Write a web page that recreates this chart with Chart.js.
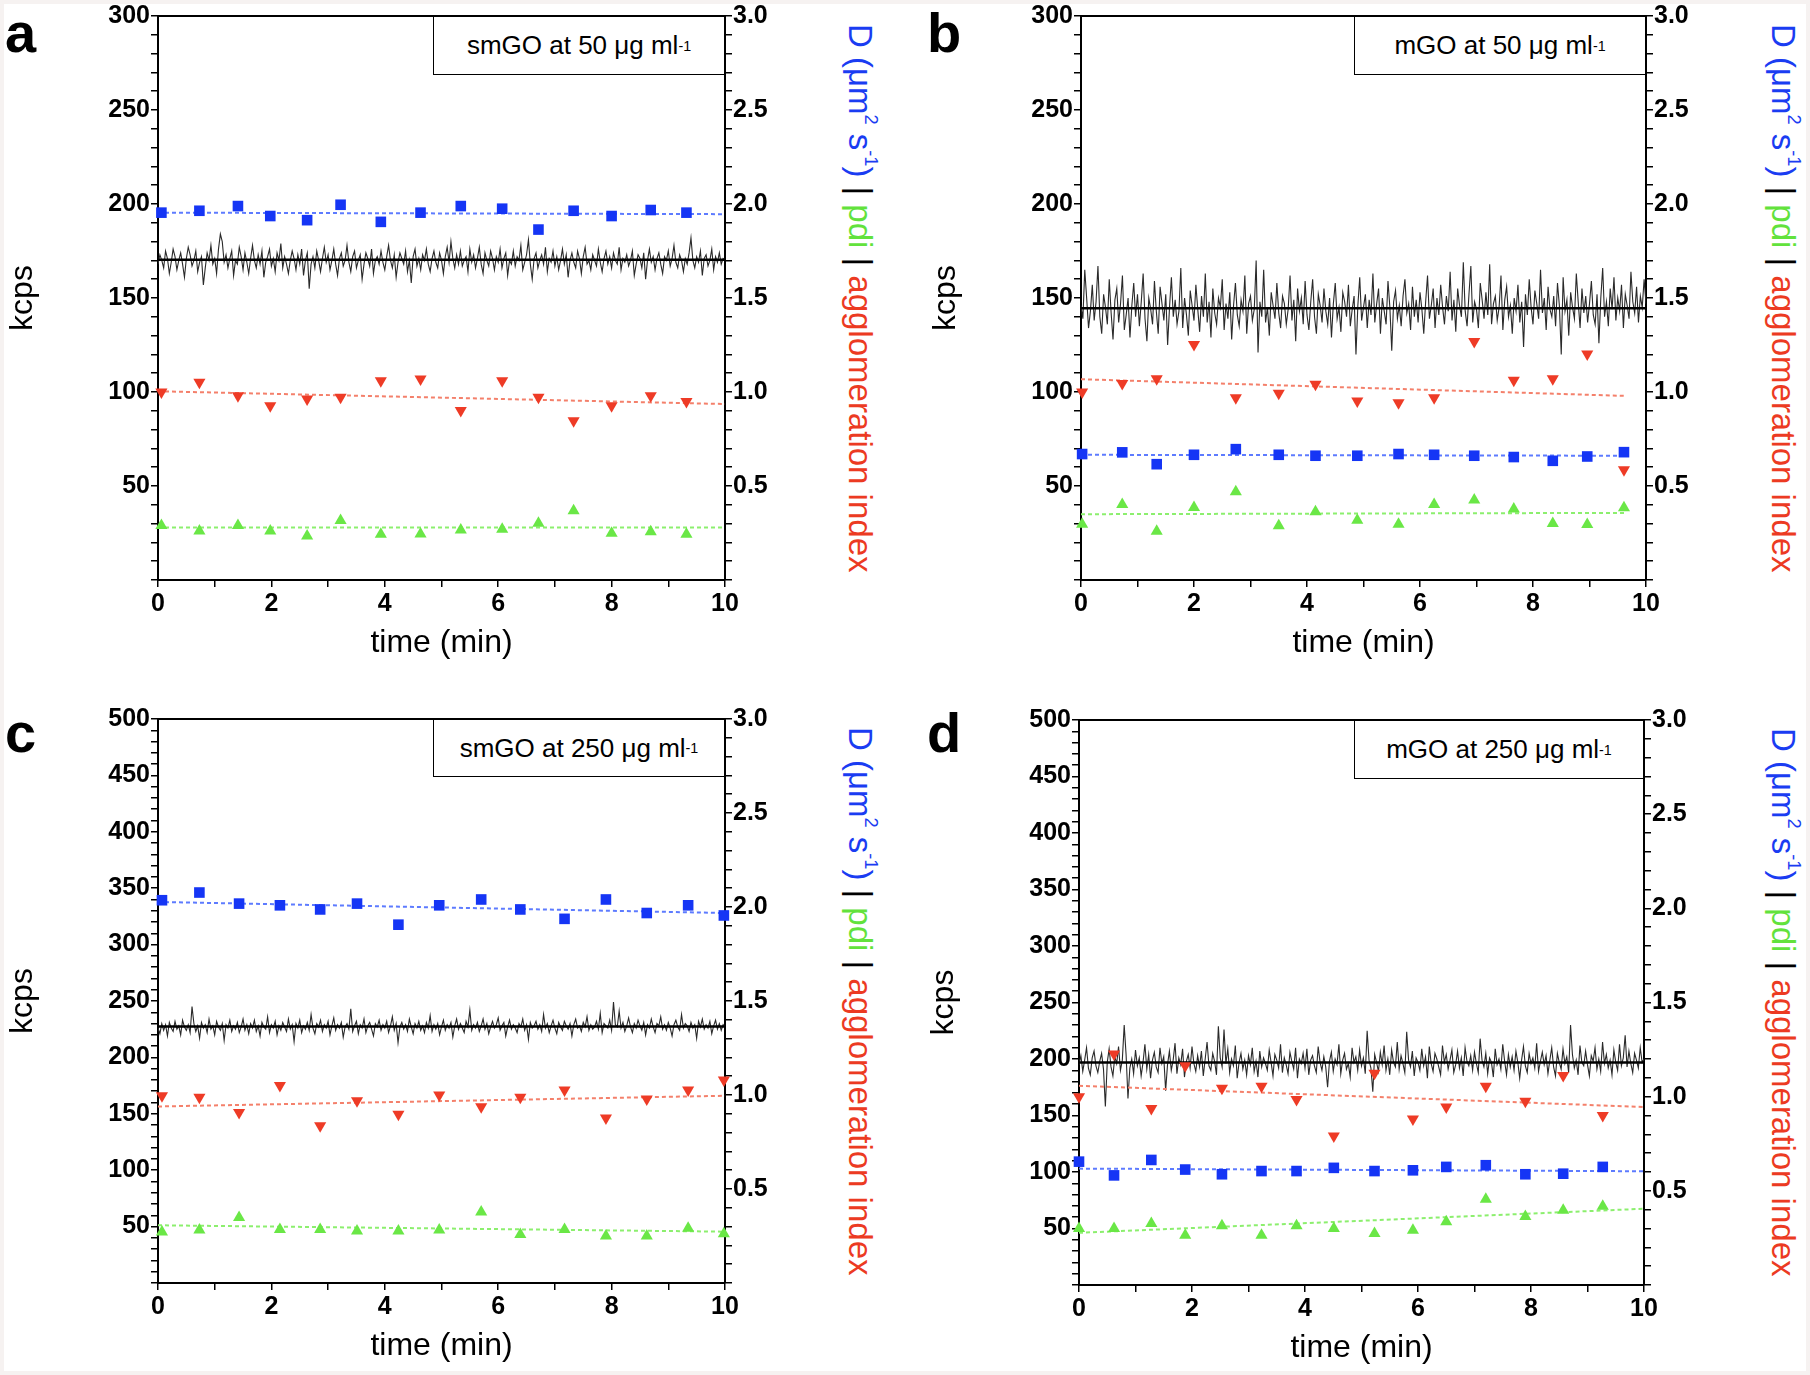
<!DOCTYPE html>
<html>
<head>
<meta charset="utf-8">
<script src="https://cdn.jsdelivr.net/npm/chart.js@4.4.1/dist/chart.umd.min.js"></script>
<style>
  body { margin: 0; width: 1810px; height: 1375px; background: #f6f2f1; position: relative; overflow: hidden;
         font-family: "Liberation Sans", Arial, sans-serif; color: #000; }
  #sheet { position: absolute; left: 4px; top: 4px; right: 4px; bottom: 4px; background: #fff; }
  canvas { position: absolute; }
  .letter { position: absolute; font-weight: bold; font-size: 56px; line-height: 56px; }
  .key { position: absolute; box-sizing: border-box; border: 1.5px solid #000; background: #fff;
         display: flex; align-items: center; justify-content: center; font-size: 26px; }
  .key sup, .rtitle sup { font-size: 0.55em; line-height: 0; vertical-align: 0.6em; }
  .rtitle { position: absolute; writing-mode: vertical-rl; text-align: center; font-size: 33px;
            width: 38px; line-height: 38px; white-space: nowrap; }
  .blue { color: #1a3cf2; } .green { color: #62e23c; } .red { color: #ec3a22; }
</style>
</head>
<body>
<div id="sheet"></div>
<canvas id="pa"></canvas>
<canvas id="pb"></canvas>
<canvas id="pc"></canvas>
<canvas id="pd"></canvas>

<div class="letter" style="left:5px;top:5px">a</div>
<div class="letter" style="left:927px;top:5px">b</div>
<div class="letter" style="left:5px;top:705px">c</div>
<div class="letter" style="left:927px;top:705px">d</div>

<div class="key" style="left:433px;top:16px;width:292px;height:59px">smGO at 50 μg ml<sup>-1</sup></div>
<div class="key" style="left:1354px;top:16px;width:292px;height:59px">mGO at 50 μg ml<sup>-1</sup></div>
<div class="key" style="left:433px;top:719px;width:292px;height:58px">smGO at 250 μg ml<sup>-1</sup></div>
<div class="key" style="left:1354px;top:720px;width:290px;height:59px">mGO at 250 μg ml<sup>-1</sup></div>

<div class="rtitle" style="left:841px;top:16px;height:564px"><span class="blue">D (μm<sup>2</sup> s<sup>-1</sup>)</span> | <span class="green">pdi</span> | <span class="red">agglomeration index</span></div>
<div class="rtitle" style="left:1764px;top:16px;height:564px"><span class="blue">D (μm<sup>2</sup> s<sup>-1</sup>)</span> | <span class="green">pdi</span> | <span class="red">agglomeration index</span></div>
<div class="rtitle" style="left:841px;top:719px;height:564px"><span class="blue">D (μm<sup>2</sup> s<sup>-1</sup>)</span> | <span class="green">pdi</span> | <span class="red">agglomeration index</span></div>
<div class="rtitle" style="left:1764px;top:720px;height:565px"><span class="blue">D (μm<sup>2</sup> s<sup>-1</sup>)</span> | <span class="green">pdi</span> | <span class="red">agglomeration index</span></div>

<script>
// ---- panel a : smGO 50 ----
const timeA = [0.06, 0.73, 1.41, 1.98, 2.63, 3.22, 3.93, 4.63, 5.34, 6.07, 6.71, 7.33, 8.00, 8.69, 9.32];
const diffA = [1.954, 1.964, 1.989, 1.936, 1.914, 1.996, 1.905, 1.954, 1.989, 1.975, 1.864, 1.964, 1.936, 1.968, 1.954];
const aggA = [1.000, 1.052, 0.980, 0.927, 0.963, 0.972, 1.060, 1.069, 0.901, 1.060, 0.972, 0.847, 0.927, 0.980, 0.950];
const pdiA = [0.290, 0.261, 0.290, 0.261, 0.234, 0.316, 0.243, 0.245, 0.266, 0.270, 0.302, 0.368, 0.249, 0.256, 0.243];
const fitTimeA = [0, 10];
const fitDiffA = [1.954, 1.946];
const fitAggA = [1.004, 0.936];
const fitPdiA = [0.279, 0.279];
const meanKcpsA = 170.4;
const kcpsA = [
  168,173,170,166,175,171,163,169,176,172,
  165,170,174,168,161,171,177,173,167,170,
  175,164,169,172,157,166,174,170,178,168,
  171,163,176,184,180,169,173,166,171,175,
  162,170,168,177,172,165,174,169,163,171,
  178,170,166,173,168,175,161,169,172,176,
  167,171,164,174,170,179,166,172,168,163,
  170,175,171,165,173,168,176,162,170,174,
  155,168,172,166,175,170,164,171,177,169,
  173,165,170,176,168,162,171,174,167,170,
  178,169,164,172,175,166,170,173,160,168,
  174,171,167,176,163,170,172,168,175,169,
  165,172,178,170,166,173,161,169,174,171,
  168,175,164,170,158,172,176,167,171,165,
  173,170,176,168,164,171,175,169,166,174,
  170,163,172,177,169,180,171,166,173,168,
  175,167,170,172,164,176,169,173,166,171,
  177,168,163,174,170,167,175,171,165,172,
  169,176,166,171,174,162,170,168,175,167,
  172,170,178,165,169,173,181,168,160,171,
  174,166,170,173,168,177,164,171,169,175,
  167,172,165,170,176,168,173,161,170,174,
  169,166,175,171,163,172,177,168,170,165,
  173,170,167,176,169,164,171,175,168,172,
  166,174,170,168,177,165,171,169,173,167,
  170,175,162,168,173,171,166,174,160,170,
  176,169,172,165,171,174,168,163,172,170,
  175,167,171,178,169,166,173,170,164,171,
  168,174,182,170,166,172,169,175,162,171,
  173,167,170,176,165,172,169,174,168,171,170
];

// ---- panel b : mGO 50 ----
const timeB = [0.02, 0.73, 1.34, 2.00, 2.74, 3.50, 4.15, 4.89, 5.62, 6.25, 6.96, 7.66, 8.35, 8.96, 9.61];
const diffB = [0.670, 0.679, 0.616, 0.666, 0.696, 0.666, 0.661, 0.661, 0.670, 0.666, 0.661, 0.654, 0.634, 0.657, 0.680];
const aggB = [1.000, 1.045, 1.071, 1.252, 0.970, 0.993, 1.041, 0.952, 0.943, 0.970, 1.268, 1.063, 1.071, 1.202, 0.586];
const pdiB = [0.296, 0.402, 0.259, 0.386, 0.470, 0.288, 0.363, 0.318, 0.296, 0.402, 0.425, 0.377, 0.300, 0.295, 0.384];
const fitTimeB = [0, 9.65];
const fitDiffB = [0.666, 0.661];
const fitAggB = [1.068, 0.979];
const fitPdiB = [0.350, 0.357];
const meanKcpsB = 144.5;
const kcpsB = [
  146,139,165,150,134,143,157,138,148,167,
  140,131,152,145,136,160,142,128,149,155,
  137,147,162,133,141,150,129,146,158,140,
  152,135,148,163,139,127,150,144,136,159,
  143,131,156,147,138,152,125,145,161,140,
  149,136,143,166,134,150,141,130,154,146,
  138,157,144,132,151,140,163,137,148,129,
  155,142,136,150,145,160,133,147,139,153,
  128,146,158,141,135,149,143,162,131,147,
  151,138,144,170,121,148,140,165,137,145,
  130,153,146,139,158,142,134,151,147,136,
  144,162,138,149,127,155,143,150,136,159,
  141,133,148,160,140,131,152,146,137,155,
  143,136,150,129,147,158,139,145,132,153,
  148,140,157,135,144,151,120,146,161,138,
  145,152,134,149,141,163,137,147,155,131,
  150,143,136,159,145,122,148,154,139,146,
  135,151,160,142,147,133,156,140,149,137,
  153,144,131,148,162,139,146,155,134,150,
  141,157,145,136,151,143,164,138,149,132,
  155,146,140,169,143,135,152,167,137,148,
  144,134,158,149,139,153,141,168,136,147,
  151,138,145,162,133,149,156,140,146,131,
  150,143,157,137,148,124,152,141,160,145,
  136,154,147,139,165,142,150,133,156,144,
  140,151,135,158,146,120,161,143,149,130,
  153,145,139,163,148,134,155,142,151,137,
  147,159,141,136,152,126,150,166,140,148,
  135,155,144,161,138,150,143,157,134,152,
  146,139,164,148,142,156,137,151,145,160,147
];

// ---- panel c : smGO 250 ----
const timeC = [0.07, 0.73, 1.43, 2.15, 2.86, 3.51, 4.24, 4.96, 5.70, 6.39, 7.17, 7.90, 8.62, 9.35, 9.98];
const diffC = [2.036, 2.077, 2.018, 2.009, 1.987, 2.018, 1.906, 2.009, 2.040, 1.987, 1.937, 2.040, 1.968, 2.009, 1.955];
const aggC = [0.996, 0.988, 0.907, 1.050, 0.836, 0.970, 0.898, 1.000, 0.938, 0.988, 1.027, 0.877, 0.979, 1.027, 1.080];
const pdiC = [0.271, 0.282, 0.348, 0.285, 0.285, 0.276, 0.276, 0.282, 0.378, 0.258, 0.285, 0.250, 0.250, 0.291, 0.262];
const fitTimeC = [0, 10];
const fitDiffC = [2.027, 1.968];
const fitAggC = [0.939, 0.996];
const fitPdiC = [0.307, 0.273];
const meanKcpsC = 227.5;
const kcpsC = [
  226,221,230,224,229,219,231,226,223,232,
  225,228,220,233,227,224,229,222,245,230,
  223,228,217,231,226,229,222,234,225,228,
  220,232,227,224,230,215,229,226,233,223,
  228,225,231,222,227,234,224,229,221,230,
  226,233,223,228,219,231,227,225,236,222,
  229,226,232,220,228,224,231,227,223,234,
  225,229,214,230,226,233,222,228,225,231,
  224,238,226,221,230,227,233,223,229,226,
  232,220,228,235,224,229,226,231,218,227,
  230,225,243,223,228,232,221,229,226,234,
  222,228,231,225,219,230,227,233,224,229,
  226,232,222,228,236,224,230,213,227,231,
  225,229,223,234,227,221,230,226,232,224,
  228,222,231,226,237,223,229,225,230,220,
  227,233,224,229,226,231,218,228,234,225,
  230,226,222,232,227,242,224,229,226,231,
  223,228,234,225,230,221,227,232,226,229,
  235,224,228,231,219,227,233,225,229,226,
  222,230,227,234,224,229,216,231,226,228,
  232,225,229,223,238,226,230,222,228,233,
  226,221,231,227,224,232,228,225,230,219,
  229,234,226,228,223,231,227,236,224,229,
  225,227,232,225,239,222,230,228,226,233,
  224,249,229,227,241,226,231,223,228,235,
  227,222,230,226,233,228,224,231,220,229,
  226,234,227,222,230,228,236,225,229,224,
  231,226,219,229,233,227,224,238,226,230,
  228,223,231,226,229,217,232,227,234,225,
  229,226,232,221,228,233,225,230,224,229,227
];

// ---- panel d : mGO 250 ----
const timeD = [0, 0.62, 1.28, 1.88, 2.53, 3.23, 3.85, 4.51, 5.23, 5.91, 6.50, 7.20, 7.90, 8.57, 9.27];
const diffD = [0.655, 0.582, 0.664, 0.613, 0.588, 0.605, 0.605, 0.622, 0.605, 0.609, 0.627, 0.636, 0.588, 0.591, 0.627];
const aggD = [1.000, 1.227, 0.937, 1.164, 1.045, 1.055, 0.985, 0.791, 1.124, 0.882, 0.945, 1.055, 0.976, 1.113, 0.900];
const pdiD = [0.300, 0.300, 0.327, 0.264, 0.315, 0.264, 0.315, 0.300, 0.273, 0.291, 0.336, 0.455, 0.364, 0.397, 0.418];
const fitTimeD = [0, 10];
const fitDiffD = [0.618, 0.604];
const fitAggD = [1.058, 0.945];
const fitPdiD = [0.277, 0.405];
const meanKcpsD = 197;
const kcpsD = [
  195,203,189,199,210,192,186,201,207,194,
  188,198,205,191,158,197,209,193,185,202,
  196,211,190,199,230,204,165,192,200,187,
  208,194,201,185,197,213,191,204,183,199,
  206,193,188,210,196,202,172,195,207,190,
  199,214,187,201,195,209,184,198,204,192,
  211,196,189,203,193,207,185,200,215,194,
  190,205,198,186,229,201,193,226,196,209,
  188,200,194,212,183,197,205,191,199,186,
  203,195,210,189,198,184,207,193,201,196,
  190,208,197,185,204,199,192,213,188,201,
  195,187,206,198,191,210,183,200,196,205,
  192,209,186,199,203,194,188,211,197,190,
  202,193,175,198,206,189,200,195,213,187,
  199,205,191,196,184,210,197,202,190,208,
  194,201,187,225,199,192,171,204,197,189,
  206,195,212,190,200,186,208,197,193,215,
  191,203,196,188,224,199,193,207,185,201,
  197,190,209,194,202,183,211,196,189,205,
  200,193,186,212,197,204,191,199,208,188,
  195,207,192,201,185,210,198,194,203,190,
  206,196,188,218,199,193,205,187,201,197,
  184,209,195,200,191,213,198,186,204,193,
  202,190,207,197,183,199,211,194,188,205,
  196,201,192,214,189,198,206,195,203,187,
  199,210,193,185,205,197,191,209,196,202,
  188,230,204,192,199,186,212,197,194,207,
  195,185,203,198,210,191,200,189,215,196,
  204,192,199,186,208,197,190,213,194,201,
  221,193,207,196,188,205,199,192,210,197,200
];

const BLUE = "#1535f5", RED = "#ee3b26", GREEN = "#6ae746";
const BLUE_FIT = "#5d7bff", RED_FIT = "#f4806b", GREEN_FIT = "#8cef6e";

Chart.defaults.font.family = '"Liberation Sans", Arial, sans-serif';
Chart.defaults.color = "#000";

// top edge of the plot frame
const frameTop = {
    id: "frameTop",
    afterDraw(chart) {
        const { ctx, chartArea: a } = chart;
        ctx.save();
        ctx.strokeStyle = "#000";
        ctx.lineWidth = 2;
        ctx.beginPath();
        ctx.moveTo(a.left - 1, a.top);
        ctx.lineTo(a.right + 1, a.top);
        ctx.stroke();
        ctx.restore();
    }
};

function pts(xs, ys) {
    return ys.map((y, i) => ({ x: xs[i], y: y }));
}

function makePanel(id, box, kMax, d) {
    const canvas = document.getElementById(id);
    const ox = box.l - 158, oy = box.t - 16;
    canvas.width = box.r - ox + 100;
    canvas.height = box.b - oy + 110;
    canvas.style.left = ox + "px";
    canvas.style.top = oy + "px";

    // one reading every 2 s over the 10 min run
    const trace = d.kcps.map((v, i) => ({ x: i * 10 / (d.kcps.length - 1), y: v }));
    const axisGrid = { display: true, drawOnChartArea: false, color: "#000", lineWidth: 1.5, tickLength: 7 };
    const tickFont = { size: 25, weight: "bold" };

    new Chart(canvas, {
        type: "scatter",
        data: {
            datasets: [
                { data: pts(d.t, d.diff), yAxisID: "y2", pointStyle: "rect", pointRadius: 7.5, backgroundColor: BLUE, borderWidth: 0, clip: false },
                { data: pts(d.t, d.agg), yAxisID: "y2", pointStyle: "triangle", pointRotation: 180, pointRadius: 7, backgroundColor: RED, borderWidth: 0, clip: false },
                { data: pts(d.t, d.pdi), yAxisID: "y2", pointStyle: "triangle", pointRadius: 7, backgroundColor: GREEN, borderWidth: 0, clip: false },
                { data: pts(d.fitT, d.fitDiff), yAxisID: "y2", showLine: true, pointRadius: 0, borderColor: BLUE_FIT, borderWidth: 2, borderDash: [4, 3] },
                { data: pts(d.fitT, d.fitAgg), yAxisID: "y2", showLine: true, pointRadius: 0, borderColor: RED_FIT, borderWidth: 2, borderDash: [4, 3] },
                { data: pts(d.fitT, d.fitPdi), yAxisID: "y2", showLine: true, pointRadius: 0, borderColor: GREEN_FIT, borderWidth: 2, borderDash: [4, 3] },
                { data: [{ x: 0, y: d.mean }, { x: 10, y: d.mean }], yAxisID: "y", showLine: true, pointRadius: 0, borderColor: "#000", borderWidth: 2.5 },
                { data: trace, yAxisID: "y", showLine: true, pointRadius: 0, borderColor: "#2a2a2a", borderWidth: 1.1, tension: 0 }
            ]
        },
        options: {
            responsive: false,
            animation: false,
            events: [],
            layout: { padding: { left: 0, top: 16, right: 40, bottom: 10 } },
            plugins: { legend: { display: false }, tooltip: { enabled: false } },
            scales: {
                x: {
                    type: "linear", position: "bottom", min: 0, max: 10,
                    grid: axisGrid,
                    border: { color: "#000", width: 2 },
                    ticks: { stepSize: 1, autoSkip: false, maxRotation: 0, font: tickFont, padding: 2,
                             callback: v => (v % 2 === 0 ? v : "") },
                    title: { display: true, text: "time (min)", font: { size: 32 }, padding: { top: 0, bottom: 18 } },
                    afterFit: s => { s.height = 100; }
                },
                y: {
                    type: "linear", position: "left", min: 0, max: kMax,
                    grid: axisGrid,
                    border: { color: "#000", width: 2 },
                    ticks: { stepSize: 10, autoSkip: false, font: tickFont, padding: 1,
                             callback: v => (v % 50 === 0 && v > 0 ? v : "") },
                    title: { display: true, text: "kcps", font: { size: 32 }, padding: { top: 4, bottom: 0 } },
                    afterFit: s => { s.width = 158; }
                },
                y2: {
                    type: "linear", position: "right", min: 0, max: 3,
                    grid: axisGrid,
                    border: { color: "#000", width: 2 },
                    ticks: { stepSize: 0.1, autoSkip: false, font: tickFont, padding: 1,
                             callback: v => {
                                 const k = Math.round(v * 10);
                                 return k % 5 === 0 && k > 0 ? (k / 10).toFixed(1) : "";
                             } },
                    afterFit: s => { s.width = 60; }
                }
            }
        },
        plugins: [frameTop]
    });
}

makePanel("pa", { l: 158, t: 16, r: 725, b: 580 }, 300, {
    t: timeA, diff: diffA, agg: aggA, pdi: pdiA,
    fitT: fitTimeA, fitDiff: fitDiffA, fitAgg: fitAggA, fitPdi: fitPdiA,
    mean: meanKcpsA, kcps: kcpsA
});
makePanel("pb", { l: 1081, t: 16, r: 1646, b: 580 }, 300, {
    t: timeB, diff: diffB, agg: aggB, pdi: pdiB,
    fitT: fitTimeB, fitDiff: fitDiffB, fitAgg: fitAggB, fitPdi: fitPdiB,
    mean: meanKcpsB, kcps: kcpsB
});
makePanel("pc", { l: 158, t: 719, r: 725, b: 1283 }, 500, {
    t: timeC, diff: diffC, agg: aggC, pdi: pdiC,
    fitT: fitTimeC, fitDiff: fitDiffC, fitAgg: fitAggC, fitPdi: fitPdiC,
    mean: meanKcpsC, kcps: kcpsC
});
makePanel("pd", { l: 1079, t: 720, r: 1644, b: 1285 }, 500, {
    t: timeD, diff: diffD, agg: aggD, pdi: pdiD,
    fitT: fitTimeD, fitDiff: fitDiffD, fitAgg: fitAggD, fitPdi: fitPdiD,
    mean: meanKcpsD, kcps: kcpsD
});
</script>
</body>
</html>
